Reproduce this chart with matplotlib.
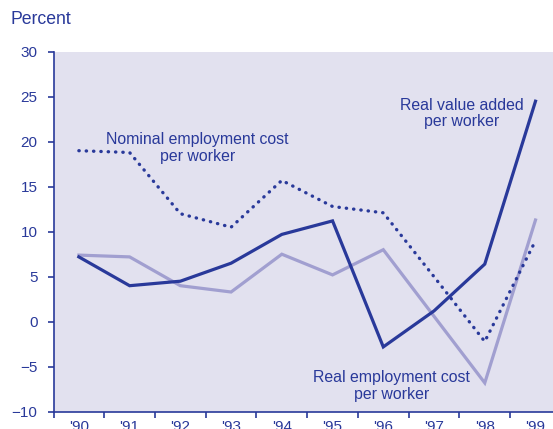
import numpy as np
import matplotlib.pyplot as plt

# Years
years = ["'90", "'91", "'92", "'93", "'94", "'95", "'96", "'97", "'98", "'99"]
# Percent changes
nominal_cost = [19.0, 18.8, 12.0, 10.5, 15.7, 12.8, 12.1, 5.0, -2.2, 9.0]
real_value_added = [7.2, 4.0, 4.5, 6.5, 9.7, 11.2, -2.8, 1.2, 6.4, 24.5]
real_cost = [7.4, 7.2, 4.0, 3.3, 7.5, 5.2, 8.0, 0.6, -6.8, 11.3]

dark = '#29399a'
light = '#a19fd0'
bg = '#e2e1ef'

plt.rcParams['font.family'] = ['Liberation Sans', 'DejaVu Sans']

fig = plt.figure(figsize=(5.53, 4.29), dpi=100)
ax = fig.add_axes([53.5/553, (429-411.7)/429, 1-53.5/553, (411.7-51.7)/429])
ax.set_facecolor(bg)

x = np.arange(len(years))
ax.plot(x, real_cost, color=light, lw=2.3, solid_joinstyle='miter')
ax.plot(x, real_value_added, color=dark, lw=2.3, solid_joinstyle='miter')
ax.plot(x, nominal_cost, color=dark, lw=2.4, linestyle=(0, (0.1, 2.1)),
        dash_capstyle='round')

ax.set_xlim(-0.5, (553-79.5)/50.67)
ax.set_ylim(-10, 30)
ax.set_yticks(np.arange(-10, 31, 5))
ax.set_yticklabels(['\u221210', '\u22125', '0', '5', '10', '15', '20', '25', '30'])
ax.set_xticks(x - 0.5)
ax.set_xticklabels([])
ax.set_xticks(x, minor=True)
ax.set_xticklabels(years, minor=True)

for s in ['top', 'right']:
    ax.spines[s].set_visible(False)
for s in ['left', 'bottom']:
    ax.spines[s].set_color(dark)
    ax.spines[s].set_linewidth(1.2)
ax.tick_params(axis='both', which='major', colors=dark, labelcolor=dark,
               length=4.5, width=1.2, labelsize=11)
ax.tick_params(axis='x', which='minor', length=0, labelcolor=dark,
               labelsize=11, pad=6)
ax.tick_params(axis='y', pad=7)

ax.text(2.34, 19.3, 'Nominal employment cost\nper worker', color=dark,
        fontsize=11.4, ha='center', va='center', linespacing=1.1)
ax.text(7.54, 23.1, 'Real value added\nper worker', color=dark,
        fontsize=11.4, ha='center', va='center', linespacing=1.1)
ax.text(6.16, -7.14, 'Real employment cost\nper worker', color=dark,
        fontsize=11.4, ha='center', va='center', linespacing=1.1)

fig.text(11/553, 1 - 19/429, 'Percent', color=dark, fontsize=12.7,
         ha='left', va='center')

fig.savefig('out.png', dpi=100)
